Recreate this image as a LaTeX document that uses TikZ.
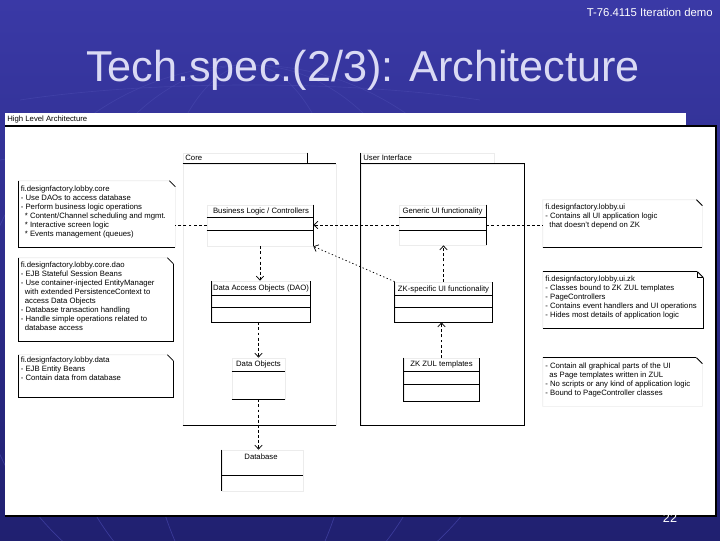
\documentclass[tikz,border=0pt]{standalone}
\usepackage{fontspec}
\setmainfont{Liberation Sans}
\usetikzlibrary{arrows.meta,calc}
\definecolor{bgtop}{RGB}{58,57,166}
\definecolor{bgbot}{RGB}{32,32,112}
\definecolor{titlec}{RGB}{218,218,244}
\definecolor{faint}{RGB}{236,236,236}
\definecolor{globe}{RGB}{70,70,172}
\newcommand\cmpline[2]{\draw ($(#1.north west)+(0,#2)$) -- ($(#1.north east)+(0,#2)$);}
\newcommand\noteoutline[1]{%
  \draw[faint] (#1.north west) -- ($(#1.north east)+(-6,0)$) -- ($(#1.north east)+(0,6)$) -- (#1.south east) -- (#1.south west) -- cycle;
  \draw ($(#1.north east)+(-6,0)$) -- ($(#1.north east)+(0,6)$);}
\begin{document}
\begin{tikzpicture}[x=0.75pt,y=-0.75pt,line width=0.55pt,
  pkg/.style={draw=faint,rectangle,inner sep=0pt},
  cls/.style={draw=faint,rectangle,inner sep=0pt},
  notebox/.style={rectangle,inner sep=0pt},
  small/.style={inner sep=0pt,font=\fontsize{5.8}{6.7}\selectfont},
  notetext/.style={small,anchor=north west,align=left},
  dep/.style={dash pattern=on 2.2pt off 1.6pt,-{Straight Barb[length=3pt,width=5.5pt]}},
  dotdep/.style={dash pattern=on 1pt off 1.8pt,-{Straight Barb[length=3pt,width=5.5pt]}},
  anchorline/.style={dash pattern=on 2.2pt off 1.6pt}]
\useasboundingbox (0,0) rectangle (720,540);
\shade[top color=bgtop,bottom color=bgbot] (0,0) rectangle (720,540);
% faint globe decoration
\begin{scope}[draw=globe,line width=0.5pt,opacity=0.7]
  \draw (250,340) circle[radius=275];
  \draw (250,340) ellipse[x radius=110,y radius=275];
  \draw (250,340) ellipse[x radius=200,y radius=275];
  \draw (20,100) .. controls (150,80) and (350,80) .. (480,100);
  \draw (0,160) .. controls (150,135) and (350,135) .. (500,160);
\end{scope}
% texts on the slide
\node[anchor=east,text=white,inner sep=0pt,font=\fontsize{8.5}{10}\selectfont] (course) at (713,12) {T-76.4115 Iteration demo};
\node[text=titlec,inner sep=0pt,font=\fontsize{32.4}{36}\selectfont] (title) at (363,70) {Tech.spec.(2/3): Architecture};
% panel
\fill[white] (5,113) rectangle (686,126);
\fill[white] (5,126) rectangle (716,516);
\draw[line width=0.8pt] (5,126) -- (716,126) -- (716,516) -- (5,516);
\node[small,anchor=west] (hdr) at (7,119.5) {High Level Architecture};
% packages
\node[pkg,minimum width=114.75pt,minimum height=195.75pt] (core) at (259.5,294.5) {};
\node[pkg,minimum width=93pt,minimum height=8.25pt] (coretab) at (245,158.5) {};
\draw (core.north west) -- (core.north east);
\draw (core.south west) -- (core.south east);
\draw (coretab.north east) -- (coretab.south east);
\node[small,anchor=west] (corelbl) at (185,158) {Core};
\node[pkg,minimum width=122.25pt,minimum height=195.75pt] (ui) at (442.5,294.5) {};
\node[pkg,minimum width=99.75pt,minimum height=8.25pt] (uitab) at (427.5,158.5) {};
\draw (uitab.north west) -- (ui.south west) -- (ui.south east) -- (ui.north east) -- (ui.north west);
\node[small,anchor=west] (uilbl) at (363,158) {User Interface};
% classes
\node[cls,minimum width=79.5pt,minimum height=30.75pt] (bl) at (260,225.5) {};
\draw (bl.north east) -- (bl.south east);
\cmpline{bl}{13}\cmpline{bl}{26}
\node[small] (bln) at (261,211.5) {Business Logic / Controllers};
\node[cls,minimum width=73.5pt,minimum height=30.75pt] (dao) at (261,301.5) {};
\draw (dao.north west) -- (dao.south west) -- (dao.south east) -- (dao.north east);
\cmpline{dao}{15}\cmpline{dao}{27}
\node[small] (daon) at (261,288.5) {Data Access Objects (DAO)};
\node[cls,minimum width=39.75pt,minimum height=30.75pt] (do) at (258.5,378.5) {};
\draw (do.south west) -- (do.south east);
\cmpline{do}{14}
\node[small] (don) at (258.5,364) {Data Objects};
\node[cls,minimum width=60.75pt,minimum height=30.75pt] (db) at (262.5,470.5) {};
\draw (db.north west) -- (db.south west);
\cmpline{db}{26}
\node[small] (dbn) at (261,457) {Database};
\node[cls,minimum width=65.25pt,minimum height=30pt] (gui) at (442.5,225) {};
\draw (gui.north east) -- (gui.south east);
\cmpline{gui}{13}\cmpline{gui}{26}
\node[small] (guin) at (442.5,211.5) {Generic UI functionality};
\node[cls,minimum width=72.75pt,minimum height=30pt] (zks) at (443.5,302) {};
\draw (zks.north west) -- (zks.south west) -- (zks.south east) -- (zks.north east);
\cmpline{zks}{14}\cmpline{zks}{26}
\node[small] (zksn) at (443.5,289) {ZK-specific UI functionality};
\node[cls,minimum width=56.25pt,minimum height=32.25pt] (zul) at (441.5,379.5) {};
\draw (zul.north west) -- (zul.south west) -- (zul.south east) -- (zul.north east);
\cmpline{zul}{14}\cmpline{zul}{27}
\node[small] (zuln) at (441.5,364.5) {ZK ZUL templates};
% notes
\node[notebox,minimum width=117pt,minimum height=49.5pt] (n1) at (97,214) {};
\noteoutline{n1}
\draw (n1.north west) -- (n1.south west) -- (n1.south east);
\node[notetext] (n1t) at (20.5,186) {fi.designfactory.lobby.core\\- Use DAOs to access database\\- Perform business logic operations\\\hspace*{3pt}* Content/Channel scheduling and mgmt.\\\hspace*{3pt}* Interactive screen logic\\\hspace*{3pt}* Events management (queues)};
\node[notebox,minimum width=115.5pt,minimum height=62.25pt] (n2) at (96,299.5) {};
\noteoutline{n2}
\draw (n2.north west) -- (n2.south west) -- (n2.south east) -- ($(n2.north east)+(0,6)$);
\node[notetext] (n2t) at (20.5,262) {fi.designfactory.lobby.core.dao\\- EJB Stateful Session Beans\\- Use container-injected EntityManager\\\hspace*{3pt}with extended PersistenceContext to\\\hspace*{3pt}access Data Objects\\- Database transaction handling\\- Handle simple operations related to\\\hspace*{3pt}database access};
\node[notebox,minimum width=115.5pt,minimum height=31.5pt] (n3) at (96,376) {};
\noteoutline{n3}
\draw (n3.north west) -- (n3.south west) -- (n3.south east) -- ($(n3.north east)+(0,6)$);
\node[notetext] (n3t) at (20.5,357) {fi.designfactory.lobby.data\\- EJB Entity Beans\\- Contain data from database};
\node[notebox,minimum width=119.25pt,minimum height=35.25pt] (n4) at (622.5,223.5) {};
\noteoutline{n4}
\draw (n4.south west) -- (n4.south east);
\node[notetext] (n4t) at (545,203.5) {fi.designfactory.lobby.ui\\- Contains all UI application logic\\\hspace*{3pt}that doesn't depend on ZK};
\node[notebox,minimum width=120pt,minimum height=42pt] (n5) at (623,300) {};
\noteoutline{n5}
\draw (n5.north west) -- ($(n5.north east)+(-6,0)$);
\draw ($(n5.north east)+(0,6)$) -- (n5.south east) -- (n5.south west);
\draw ($(n5.north east)+(-6,0)$) -- ($(n5.north east)+(-6,6)$) -- ($(n5.north east)+(0,6)$);
\node[notetext] (n5t) at (545,276) {fi.designfactory.lobby.ui.zk\\- Classes bound to ZK ZUL templates\\- PageControllers\\- Contains event handlers and UI operations\\- Hides most details of application logic};
\node[notebox,minimum width=119.25pt,minimum height=36pt] (n6) at (622.5,382) {};
\noteoutline{n6}
\draw (n6.north west) -- ($(n6.north east)+(-6,0)$);
\node[notetext] (n6t) at (545,363) {- Contain all graphical parts of the UI\\\hspace*{3pt}as Page templates written in ZUL\\- No scripts or any kind of application logic\\- Bound to PageController classes};
% connectors
\draw[dep] (bl.south) -- (bl.south |- dao.north);
\draw[dep] (dao.south -| do.south) -- (do.north);
\draw[dep] (do.south) -- (do.south |- db.north);
\draw[dep] (gui.west) -- (gui.west -| bl.east);
\draw[dotdep] (zks.north west) -- (bl.south east);
\draw[dep] (zks.north) -- (zks.north |- gui.south);
\draw[dep] (zul.north) -- (zul.north |- zks.south);
\draw[anchorline] (bl.west) -- (bl.west -| n1.east);
\draw[anchorline] (gui.east) -- (gui.east -| n4.west);
% page number
\node[text=white,inner sep=0pt,font=\fontsize{9.5}{11}\selectfont] (page) at (670,518) {22};
\end{tikzpicture}
\end{document}
